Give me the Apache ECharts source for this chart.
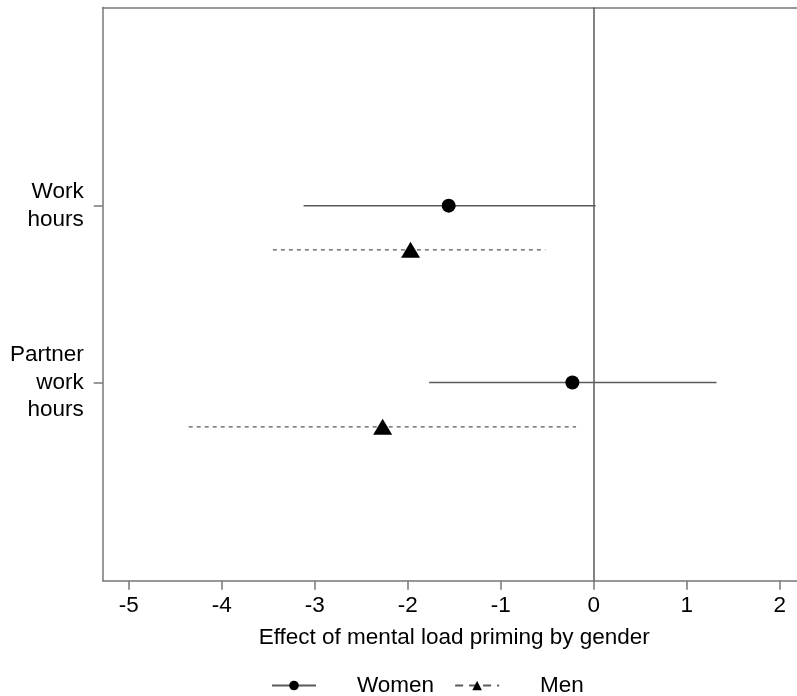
<!DOCTYPE html>
<html>
<head>
<meta charset="utf-8">
<script src="https://cdn.jsdelivr.net/npm/echarts@6/dist/echarts.min.js"></script>
<style>
html,body{margin:0;padding:0;background:#fff;}
#chart{width:797px;height:696px;}
</style>
</head>
<body>
<div id="chart"></div>
<script>
// ---- data ----
var categories = ['Work\nhours', 'Partner\nwork\nhours'];
var womenEst = [-1.56, -0.23];
var womenLo  = [-3.12, -1.77];
var womenHi  = [0.02, 1.32];
var menEst   = [-1.97, -2.27];
var menLo    = [-3.45, -4.355];
var menHi    = [-0.52, -0.19];
var xTicks   = [-5, -4, -3, -2, -1, 0, 1, 2];
var seriesNames = ['Women', 'Men'];
var xTitle = 'Effect of mental load priming by gender';

// ---- layout helpers ----
var FONT = "'Liberation Sans', Arial, Helvetica, sans-serif";
var MEN_OFFSET = 0.25;
function catY(i) { return categories.length - i; }
var labelMap = {};
categories.forEach(function (c, i) { labelMap[catY(i)] = c; });

function rowData(lo, est, hi, y) {
  return [
    { value: [lo, y], symbol: 'none' },
    { value: [est, y] },
    { value: [hi, y], symbol: 'none' }
  ];
}

var series = [];
categories.forEach(function (c, i) {
  var s = {
    name: seriesNames[0], type: 'line',
    data: rowData(womenLo[i], womenEst[i], womenHi[i], catY(i)),
    symbol: 'circle', symbolSize: 14,
    itemStyle: { color: '#000' },
    lineStyle: { color: '#5a5a5a', width: 1.5, type: 'solid' },
    z: 3
  };
  if (i === 0) {
    s.markLine = {
      silent: true, symbol: ['none', 'none'], label: { show: false },
      lineStyle: { color: '#5a5a5a', width: 1.5, type: 'solid' },
      data: [{ xAxis: 0 }]
    };
  }
  series.push(s);
});
categories.forEach(function (c, i) {
  series.push({
    name: seriesNames[1], type: 'line',
    data: rowData(menLo[i], menEst[i], menHi[i], catY(i) - MEN_OFFSET),
    symbol: 'triangle', symbolSize: [19, 16],
    itemStyle: { color: '#000' },
    lineStyle: { color: '#5a5a5a', width: 1.3, type: [4, 4] },
    z: 3
  });
});

var axisLineStyle = { color: '#777', width: 1.5 };

var chart = echarts.init(document.getElementById('chart'), null, { renderer: 'canvas' });
chart.setOption({
  animation: false,
  backgroundColor: '#fff',
  textStyle: { fontFamily: FONT },
  grid: {
    left: 102.7, top: 7.5, height: 573.2, width: 703.1,
    outerBoundsMode: 'none', containLabel: false, show: false
  },
  legend: {
    left: 266, top: 669,
    itemWidth: 44, itemHeight: 12, itemGap: 20,
    data: [
      { name: seriesNames[0] },
      { name: seriesNames[1], lineStyle: { type: [8, 6] } }
    ],
    textStyle: { fontSize: 22.5, color: '#000', fontFamily: FONT, padding: [0, 0, 0, 36] }
  },
  xAxis: [{
    type: 'value', min: -5.28, max: 2.28, position: 'bottom',
    splitLine: { show: false },
    axisLine: { show: true, onZero: false, lineStyle: axisLineStyle },
    axisTick: { show: true, customValues: xTicks, length: 9, lineStyle: axisLineStyle },
    axisLabel: { customValues: xTicks, margin: 14, fontSize: 22.5, color: '#000', fontFamily: FONT },
    name: xTitle, nameLocation: 'middle', nameGap: 46,
    nameTextStyle: { fontSize: 22.5, color: '#000', fontFamily: FONT }
  }, {
    type: 'value', min: -5.28, max: 2.28, position: 'top',
    splitLine: { show: false },
    axisLine: { show: true, onZero: false, lineStyle: axisLineStyle },
    axisTick: { show: false }, axisLabel: { show: false }
  }],
  yAxis: {
    type: 'value', min: -0.12, max: 3.12,
    splitLine: { show: false },
    axisLine: { show: true, onZero: false, lineStyle: axisLineStyle },
    axisTick: { show: true, customValues: [1, 2], length: 9, lineStyle: axisLineStyle },
    axisLabel: {
      customValues: [1, 2], margin: 19, fontSize: 22.5, lineHeight: 27.5,
      color: '#000', fontFamily: FONT, align: 'right',
      formatter: function (v) { return labelMap[v] || ''; }
    }
  },
  series: series
});
</script>
</body>
</html>
